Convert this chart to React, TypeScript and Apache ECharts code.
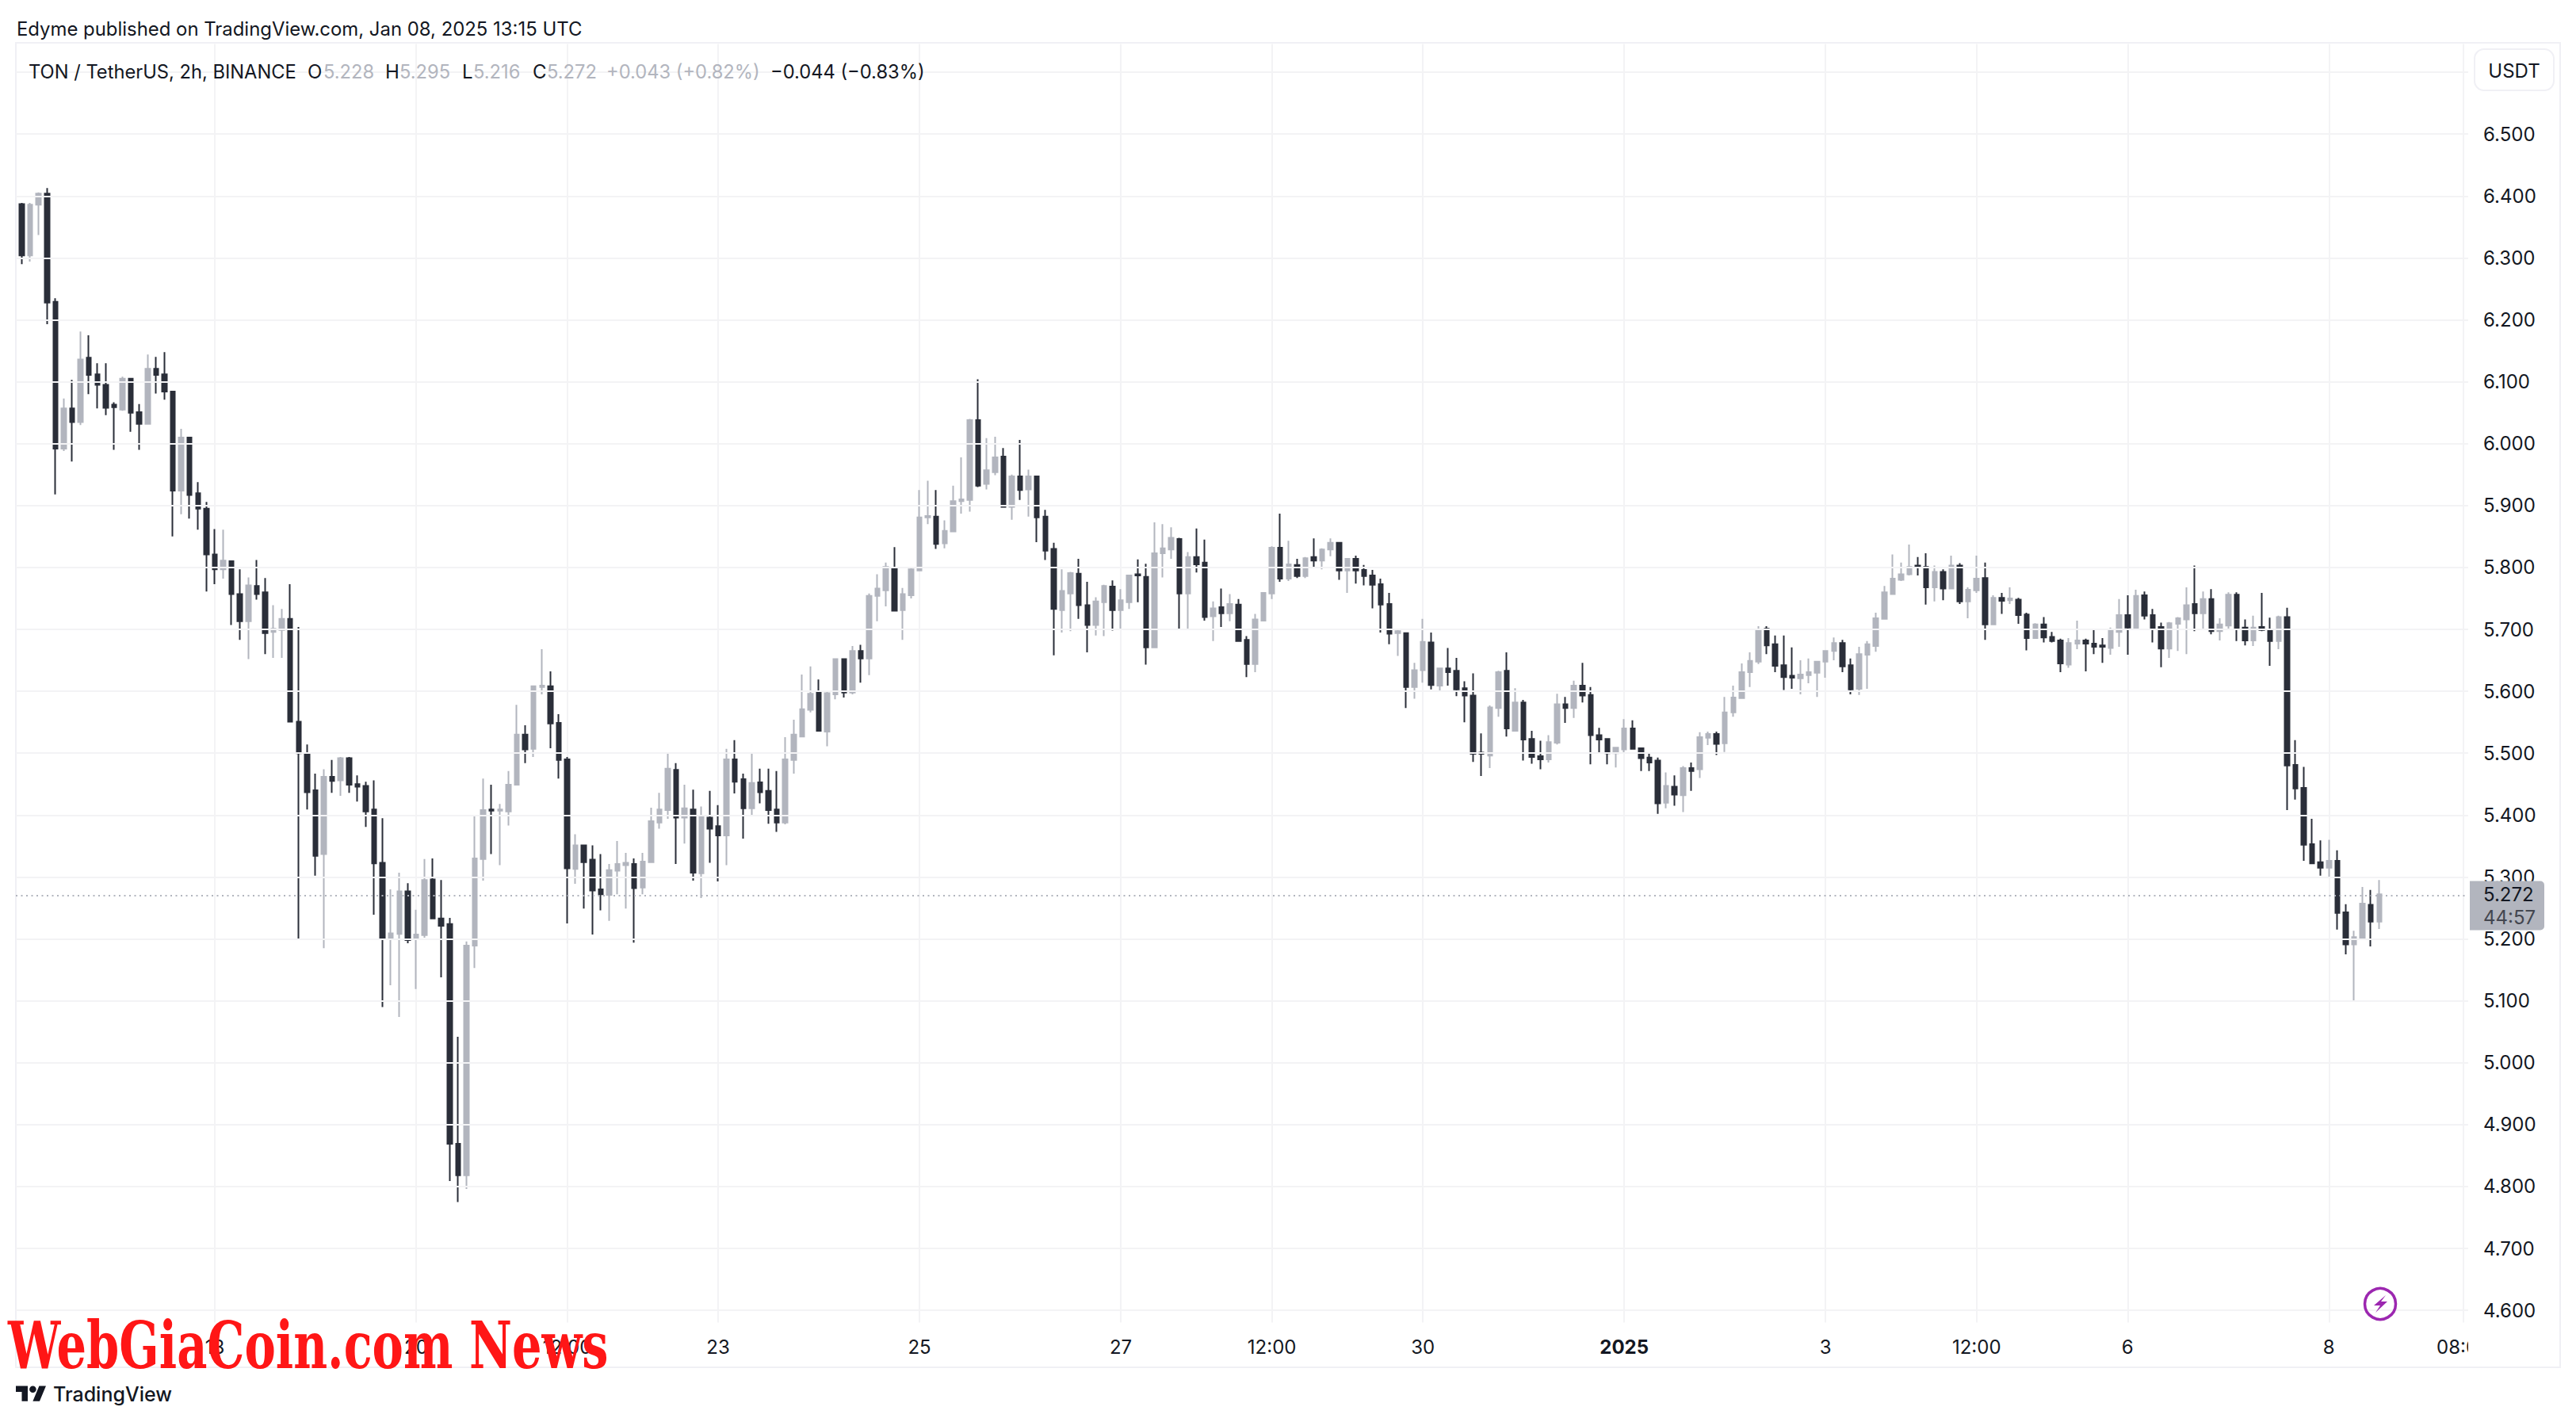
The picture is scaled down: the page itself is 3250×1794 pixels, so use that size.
import React, { useEffect, useRef } from "react";
import * as echarts from "echarts";

const firstBar = Date.UTC(2024, 11, 16, 2);
const barMs = 2 * 3600 * 1000;

const opens = [
6.387,6.304,6.386,6.404,6.229,5.992,6.057,6.035,6.139,6.112,
6.095,6.063,6.055,6.105,6.051,6.032,6.121,6.112,6.084,5.924,
6.010,5.920,5.895,5.821,5.797,5.810,5.757,5.713,5.770,5.760,
5.696,5.699,5.717,5.551,5.500,5.440,5.337,5.462,5.456,5.492,
5.450,5.447,5.409,5.323,5.200,5.208,5.277,5.200,5.206,5.296,
5.233,5.224,4.869,4.818,5.189,5.329,5.409,5.407,5.406,5.449,
5.530,5.507,5.607,5.608,5.549,5.490,5.313,5.351,5.328,5.280,
5.271,5.310,5.319,5.321,5.283,5.324,5.388,5.408,5.473,5.396,
5.409,5.306,5.396,5.382,5.367,5.490,5.458,5.411,5.453,5.439,
5.409,5.388,5.489,5.527,5.570,5.598,5.535,5.595,5.652,5.598,
5.665,5.653,5.754,5.763,5.798,5.731,5.755,5.795,5.881,5.882,
5.839,5.858,5.907,5.909,6.038,5.935,5.954,5.979,5.898,5.947,
5.926,5.947,5.882,5.830,5.731,5.758,5.790,5.739,5.707,5.744,
5.769,5.731,5.744,5.789,5.785,5.671,5.823,5.829,5.846,5.758,
5.817,5.808,5.721,5.736,5.726,5.740,5.683,5.644,5.714,5.758,
5.832,5.782,5.804,5.786,5.817,5.811,5.829,5.840,5.795,5.814,
5.796,5.787,5.773,5.741,5.694,5.694,5.607,5.634,5.679,5.609,
5.637,5.633,5.605,5.593,5.501,5.496,5.573,5.633,5.536,5.582,
5.523,5.495,5.490,5.517,5.579,5.573,5.609,5.594,5.529,5.523,
5.500,5.506,5.540,5.508,5.493,5.488,5.420,5.446,5.432,5.476,
5.474,5.525,5.531,5.516,5.566,5.589,5.631,5.648,5.701,5.676,
5.642,5.625,5.621,5.626,5.630,5.648,5.665,5.678,5.642,5.604,
5.659,5.673,5.717,5.757,5.780,5.789,5.803,5.801,5.768,5.793,
5.766,5.803,5.745,5.763,5.783,5.708,5.751,5.747,5.748,5.724,
5.686,5.708,5.688,5.682,5.643,5.677,5.682,5.677,5.674,5.670,
5.696,5.723,5.702,5.755,5.723,5.704,5.669,5.709,5.716,5.741,
5.726,5.749,5.697,5.706,5.756,5.703,5.682,5.704,5.700,5.681,
5.720,5.481,5.444,5.353,5.324,5.315,5.326,5.243,5.191,5.202,
5.255,5.228,
];

const closes = [
6.304,6.386,6.404,6.228,5.992,6.057,6.035,6.136,6.111,6.095,
6.058,6.059,6.105,6.050,6.032,6.121,6.111,6.084,5.924,6.010,
5.917,5.895,5.821,5.797,5.811,5.757,5.713,5.771,5.757,5.694,
5.701,5.717,5.551,5.500,5.437,5.334,5.462,5.455,5.492,5.449,
5.446,5.406,5.322,5.200,5.209,5.277,5.198,5.207,5.295,5.233,
5.221,4.869,4.818,5.189,5.330,5.408,5.407,5.409,5.449,5.530,
5.506,5.608,5.609,5.548,5.489,5.314,5.351,5.324,5.278,5.272,
5.311,5.321,5.323,5.282,5.325,5.390,5.409,5.475,5.396,5.411,
5.307,5.398,5.378,5.367,5.490,5.454,5.411,5.452,5.437,5.408,
5.388,5.490,5.530,5.571,5.596,5.536,5.597,5.652,5.598,5.665,
5.653,5.754,5.766,5.801,5.730,5.757,5.797,5.881,5.883,5.838,
5.859,5.907,5.910,6.038,5.932,5.957,5.978,5.898,5.947,5.925,
5.947,5.881,5.827,5.733,5.762,5.791,5.739,5.707,5.745,5.770,
5.731,5.747,5.787,5.787,5.671,5.823,5.831,5.848,5.758,5.817,
5.805,5.720,5.734,5.726,5.741,5.681,5.644,5.716,5.759,5.832,
5.782,5.805,5.786,5.815,5.811,5.829,5.840,5.795,5.814,5.795,
5.786,5.772,5.740,5.693,5.697,5.607,5.634,5.680,5.610,5.637,
5.631,5.603,5.593,5.499,5.499,5.574,5.631,5.540,5.582,5.522,
5.494,5.490,5.518,5.579,5.573,5.609,5.593,5.529,5.522,5.500,
5.509,5.540,5.507,5.492,5.485,5.419,5.447,5.433,5.476,5.471,
5.526,5.531,5.515,5.566,5.590,5.631,5.649,5.700,5.674,5.641,
5.623,5.622,5.627,5.631,5.648,5.665,5.678,5.640,5.603,5.660,
5.676,5.718,5.760,5.782,5.789,5.801,5.801,5.768,5.793,5.766,
5.803,5.745,5.764,5.782,5.708,5.751,5.746,5.750,5.723,5.686,
5.708,5.687,5.681,5.645,5.678,5.682,5.677,5.672,5.672,5.699,
5.723,5.703,5.754,5.722,5.701,5.669,5.710,5.718,5.739,5.726,
5.749,5.697,5.708,5.756,5.700,5.682,5.703,5.699,5.681,5.720,
5.480,5.443,5.352,5.322,5.315,5.326,5.242,5.191,5.203,5.257,
5.228,5.272,
];

const highs = [
6.389,6.389,6.406,6.413,6.235,6.073,6.103,6.181,6.175,6.130,
6.130,6.067,6.108,6.105,6.064,6.144,6.140,6.148,6.085,6.024,
6.010,5.938,5.906,5.862,5.861,5.811,5.797,5.784,5.812,5.783,
5.739,5.733,5.773,5.704,5.514,5.467,5.474,5.489,5.494,5.494,
5.464,5.454,5.456,5.395,5.280,5.307,5.290,5.247,5.329,5.330,
5.295,5.234,5.042,5.196,5.398,5.459,5.449,5.418,5.471,5.578,
5.545,5.608,5.668,5.632,5.563,5.494,5.369,5.352,5.351,5.337,
5.321,5.358,5.339,5.330,5.339,5.412,5.436,5.501,5.484,5.449,
5.441,5.414,5.439,5.416,5.507,5.521,5.467,5.501,5.475,5.475,
5.471,5.526,5.554,5.627,5.640,5.619,5.601,5.653,5.652,5.673,
5.675,5.758,5.789,5.808,5.833,5.767,5.801,5.925,5.940,5.925,
5.876,5.932,5.978,6.040,6.104,6.009,6.011,5.993,5.950,6.006,
5.958,5.947,5.893,5.840,5.797,5.793,5.814,5.777,5.752,5.772,
5.779,5.765,5.787,5.813,5.806,5.873,5.870,5.865,5.848,5.825,
5.863,5.845,5.745,5.766,5.757,5.749,5.689,5.725,5.759,5.834,
5.887,5.843,5.814,5.817,5.847,5.831,5.847,5.841,5.815,5.819,
5.804,5.796,5.782,5.759,5.700,5.694,5.646,5.717,5.695,5.637,
5.670,5.654,5.616,5.629,5.532,5.577,5.633,5.663,5.605,5.586,
5.536,5.520,5.529,5.596,5.591,5.617,5.646,5.607,5.541,5.523,
5.509,5.555,5.553,5.508,5.499,5.493,5.469,5.464,5.479,5.485,
5.534,5.535,5.535,5.591,5.609,5.645,5.663,5.705,5.705,5.690,
5.690,5.671,5.650,5.653,5.649,5.665,5.687,5.683,5.653,5.672,
5.681,5.727,5.770,5.821,5.808,5.837,5.817,5.823,5.803,5.797,
5.819,5.807,5.768,5.819,5.808,5.755,5.759,5.768,5.751,5.727,
5.710,5.720,5.696,5.685,5.686,5.714,5.685,5.700,5.686,5.703,
5.749,5.755,5.764,5.761,5.733,5.711,5.712,5.720,5.768,5.803,
5.761,5.765,5.718,5.760,5.760,5.716,5.722,5.759,5.719,5.722,
5.735,5.521,5.478,5.394,5.359,5.360,5.343,5.256,5.213,5.284,
5.279,5.295,
];

const lows = [
6.290,6.294,6.337,6.193,5.918,5.988,5.971,6.030,6.080,6.057,
6.046,5.990,6.053,6.019,5.990,6.032,6.081,6.071,5.850,5.886,
5.879,5.861,5.761,5.773,5.782,5.707,5.683,5.652,5.748,5.660,
5.654,5.654,5.551,5.200,5.409,5.302,5.185,5.436,5.431,5.436,
5.422,5.381,5.239,5.090,5.125,5.074,5.193,5.119,5.202,5.233,
5.138,4.809,4.775,4.796,5.153,5.294,5.337,5.319,5.383,5.448,
5.484,5.494,5.595,5.508,5.459,5.225,5.289,5.249,5.207,5.246,
5.229,5.272,5.249,5.194,5.272,5.324,5.378,5.394,5.321,5.354,
5.294,5.266,5.323,5.293,5.319,5.435,5.362,5.398,5.419,5.386,
5.373,5.385,5.467,5.526,5.566,5.536,5.511,5.587,5.590,5.595,
5.614,5.626,5.713,5.737,5.730,5.683,5.750,5.795,5.870,5.830,
5.831,5.857,5.887,5.890,5.930,5.926,5.949,5.897,5.877,5.909,
5.882,5.841,5.812,5.658,5.695,5.697,5.717,5.663,5.690,5.689,
5.698,5.699,5.733,5.744,5.643,5.671,5.784,5.814,5.701,5.701,
5.792,5.714,5.681,5.704,5.713,5.681,5.623,5.631,5.713,5.749,
5.777,5.778,5.783,5.783,5.799,5.797,5.818,5.780,5.759,5.774,
5.771,5.734,5.695,5.676,5.657,5.573,5.588,5.614,5.603,5.600,
5.609,5.592,5.550,5.486,5.463,5.476,5.559,5.527,5.536,5.488,
5.483,5.474,5.485,5.514,5.549,5.557,5.582,5.482,5.501,5.482,
5.477,5.499,5.506,5.471,5.471,5.402,5.411,5.415,5.405,5.439,
5.460,5.513,5.497,5.502,5.559,5.589,5.607,5.644,5.660,5.631,
5.602,5.604,5.595,5.613,5.591,5.622,5.650,5.631,5.595,5.594,
5.604,5.664,5.717,5.757,5.778,5.787,5.787,5.740,5.745,5.747,
5.766,5.741,5.718,5.759,5.683,5.708,5.725,5.741,5.709,5.666,
5.686,5.679,5.679,5.631,5.638,5.668,5.632,5.660,5.646,5.659,
5.672,5.659,5.700,5.716,5.679,5.639,5.654,5.665,5.660,5.697,
5.700,5.692,5.682,5.700,5.681,5.674,5.673,5.697,5.641,5.668,
5.408,5.425,5.326,5.322,5.302,5.299,5.215,5.175,5.100,5.201,
5.188,5.216,
];

const timeTickDates = [
  Date.UTC(2024, 11, 18), Date.UTC(2024, 11, 20), Date.UTC(2024, 11, 21, 12), Date.UTC(2024, 11, 23),
  Date.UTC(2024, 11, 25), Date.UTC(2024, 11, 27), Date.UTC(2024, 11, 28, 12), Date.UTC(2024, 11, 30),
  Date.UTC(2025, 0, 1), Date.UTC(2025, 0, 3), Date.UTC(2025, 0, 4, 12), Date.UTC(2025, 0, 6),
  Date.UTC(2025, 0, 8), Date.UTC(2025, 0, 9, 8),
];
const timeTickLabels = ["18", "20", "12:00", "23", "25", "27", "12:00", "30", "2025", "3", "12:00", "6", "8", "08:00"];
const priceGridValues = [4.6, 4.7, 4.8, 4.9, 5.0, 5.1, 5.2, 5.3, 5.4, 5.5, 5.6, 5.7, 5.8, 5.9, 6.0, 6.1, 6.2, 6.3, 6.4, 6.5, 6.6];
const priceLabelValues = priceGridValues.slice(0, -1);
const lastPrice = 5.272;

const DARK = "#2a2e39";
const LIGHT = "#b2b5be";
const INK = "#131722";
const GRID = "#f3f3f5";
const FRAME = "#f0f0f5";
const FONT = "Inter";

const barIndexOf = (ms: number) => Math.round((ms - firstBar) / barMs);
const tickIndices = timeTickDates.map(barIndexOf);

const text = (t: string, x: number, y: number, size: number, fill: string, extra: any = {}) => ({
  type: "text",
  z: 10,
  x,
  y,
  style: {
    text: t,
    fill,
    fontSize: size,
    fontWeight: extra.weight ?? 400,
    fontFamily: extra.family ?? FONT,
    textVerticalAlign: "middle",
    textAlign: extra.align ?? "left",
  },
  silent: true,
  ...(extra.scaleX ? { scaleX: extra.scaleX } : {}),
});

echarts.graphic.registerShape(
  "tvLogo",
  echarts.graphic.extendPath("M14 25H7V14H0V7h14v18zM28 25h-8l7.5-18h8L28 25zM24 11a4 4 0 1 1-8 0a4 4 0 1 1 8 0z", {})
);

export default function App() {
  const ref = useRef<HTMLDivElement>(null);
  useEffect(() => {
    const chart = echarts.init(ref.current!, undefined, { renderer: "svg", width: 3250, height: 1794 });
    const candles = opens.map((o, i) => [i, o, closes[i], lows[i], highs[i]]);
    chart.setOption({
      animation: false,
      backgroundColor: "#ffffff",
      grid: { left: 20, top: 55.5, width: 3094, height: 1613, containLabel: false },
      xAxis: {
        type: "value",
        z: 0,
        min: -0.7086,
        max: 291.6,
        axisLine: { show: false },
        axisTick: { show: false, customValues: tickIndices },
        axisLabel: {
          customValues: tickIndices,
          hideOverlap: false,
          showMinLabel: true,
          showMaxLabel: true,
          margin: 19,
          fontSize: 24,
          fontFamily: FONT,
          color: INK,
          formatter: (v: number) => {
            const label = timeTickLabels[tickIndices.indexOf(v)] ?? "";
            return label === "2025" ? "{b|2025}" : label;
          },
          rich: { b: { fontWeight: 700, fontSize: 24, fontFamily: FONT, color: INK } },
        },
        splitLine: { show: true, lineStyle: { color: GRID, width: 2 } },
      },
      yAxis: {
        type: "value",
        position: "right",
        z: 5,
        min: 4.5803,
        max: 6.6456,
        axisLine: { show: false },
        axisTick: { show: false, customValues: priceGridValues },
        axisLabel: {
          customValues: priceLabelValues,
          margin: 19,
          fontSize: 24,
          fontFamily: FONT,
          color: INK,
          formatter: (v: number) => v.toFixed(3),
        },
        splitLine: { show: true, lineStyle: { color: GRID, width: 2 } },
      },
      series: [
        {
          type: "candlestick",
          data: candles,
          barWidth: 6,
          itemStyle: { color: LIGHT, color0: DARK, borderColor: LIGHT, borderColor0: DARK, borderWidth: 2 },
          markLine: {
            silent: true,
            symbol: "none",
            label: { show: false },
            lineStyle: { color: LIGHT, width: 2, type: [2, 4.5] },
            data: [{ yAxis: lastPrice }],
          },
        },
      ],
      graphic: {
        elements: [
          { type: "rect", z: 3, silent: true, shape: { x: 3114, y: 40, width: 136, height: 1700 }, style: { fill: "#ffffff" } },
          { type: "rect", z: 4, silent: true, shape: { x: 20, y: 54, width: 3210, height: 1671 }, style: { fill: "none", stroke: FRAME, lineWidth: 2 } },
          text("Edyme published on TradingView.com, Jan 08, 2025 13:15 UTC", 21, 36, 23.9, INK),
          text("TON / TetherUS, 2h, BINANCE", 36, 90, 23.7, INK),
          text("O", 388, 90, 24, INK),
          text("5.228", 408, 90, 23.7, LIGHT),
          text("H", 486, 90, 24, INK),
          text("5.295", 504, 90, 23.7, LIGHT),
          text("L", 583, 90, 24, INK),
          text("5.216", 597, 90, 23.7, LIGHT),
          text("C", 672, 90, 24, INK),
          text("5.272", 690, 90, 23.7, LIGHT),
          text("+0.043 (+0.82%)", 765, 90, 23.7, LIGHT),
          text("\u22120.044 (\u22120.83%)", 972, 90, 23.7, INK),
          { type: "rect", z: 10, silent: true, shape: { x: 3122, y: 62, width: 100, height: 52, r: 12 }, style: { fill: "#ffffff", stroke: FRAME, lineWidth: 2 } },
          text("USDT", 3172, 89, 24, INK, { align: "center" }),
          { type: "rect", z: 10, silent: true, shape: { x: 3116, y: 1111.5, width: 94, height: 62, r: [0, 5, 5, 0] }, style: { fill: LIGHT } },
          text("5.272", 3133, 1128.5, 24, INK),
          text("44:57", 3133, 1157, 24, "#43464f"),
          { type: "circle", z: 10, silent: true, shape: { cx: 3003, cy: 1645, r: 19.5 }, style: { fill: "none", stroke: "#9c27b0", lineWidth: 3.5 } },
          { type: "polygon", z: 10, silent: true, shape: { points: [[3010, 1634], [2995, 1647], [3003, 1647], [2997, 1656], [3012, 1642], [3004, 1642]] }, style: { fill: "#9c27b0" } },
          { type: "tvLogo", z: 10, silent: true, x: 20, y: 1741, scaleX: 1.07, scaleY: 1.07, style: { fill: "#131722" } },
          text("TradingView", 67, 1759, 25, INK, { weight: 500 }),
          text("WebGiaCoin.com News", 10, 1697, 82, "#ff1616", { weight: 700, family: "DejaVu Serif", scaleX: 0.72 }),
        ],
      },
    });
    return () => chart.dispose();
  }, []);
  return <div ref={ref} style={{ position: "absolute", left: 0, top: 0, width: 3250, height: 1794 }} />;
}
